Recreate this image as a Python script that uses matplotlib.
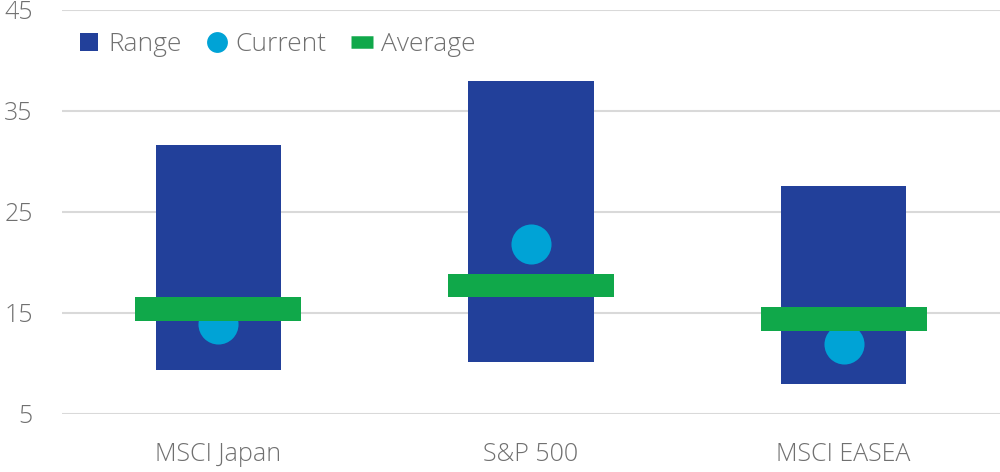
import matplotlib.pyplot as plt
import matplotlib
from matplotlib.lines import Line2D

matplotlib.rcParams['font.family'] = ['Open Sans', 'DejaVu Sans']

categories = ['MSCI Japan', 'S&P 500', 'MSCI EASEA']
range_low = [9.4, 10.1, 8.0]
range_high = [31.6, 38.0, 27.6]
current = [13.9, 21.8, 11.9]
average = [15.4, 17.7, 14.4]
yticks = [5, 15, 25, 35, 45]

c_range = '#22409a'
c_current = '#00a3d6'
c_avg = '#10a84a'
c_text = '#707070'

fig = plt.figure(figsize=(10, 4.72), dpi=100)
ax = fig.add_axes([0.062, 0.123, 0.938, 0.856])

x = range(len(categories))
heights = [h - l for h, l in zip(range_high, range_low)]
ax.bar(x, heights, bottom=range_low, width=0.4, color=c_range, zorder=2)
ax.scatter(x, current, s=34**2 * 0.72, color=c_current, zorder=3, linewidths=0)
ax.bar(x, [2.3] * 3, bottom=[a - 1.15 for a in average], width=0.53,
       color=c_avg, zorder=4)

ax.set_xlim(-0.5, 2.5)
ax.set_ylim(5, 45)
ax.set_yticks(yticks)
ax.set_xticks(list(x))
ax.set_xticklabels(categories)
ax.grid(axis='y', color='#d9d9d9', linewidth=1.5, zorder=0)
ax.set_axisbelow(True)
for s in ax.spines.values():
    s.set_visible(False)
ax.tick_params(length=0, labelsize=18, colors=c_text)
ax.tick_params(axis='x', pad=20)
ax.tick_params(axis='y', pad=21)
for lab in ax.get_xticklabels() + ax.get_yticklabels():
    lab.set_fontweight('light')

handles = [
    Line2D([], [], marker='s', linestyle='none', markersize=13,
           markerfacecolor=c_range, markeredgewidth=0, label='Range'),
    Line2D([], [], marker='o', linestyle='none', markersize=15,
           markerfacecolor=c_current, markeredgewidth=0, label='Current'),
    Line2D([], [], color=c_avg, linewidth=9, solid_capstyle='butt',
           label='Average'),
]
leg = ax.legend(handles=handles, loc='upper left', ncol=3, frameon=False,
                bbox_to_anchor=(0.0, 0.985), handlelength=0.85,
                handletextpad=0.3, columnspacing=0.9, borderaxespad=0.2,
                prop={'weight': 'light', 'size': 19})
for t in leg.get_texts():
    t.set_color(c_text)

fig.savefig('out.png', dpi=100)
